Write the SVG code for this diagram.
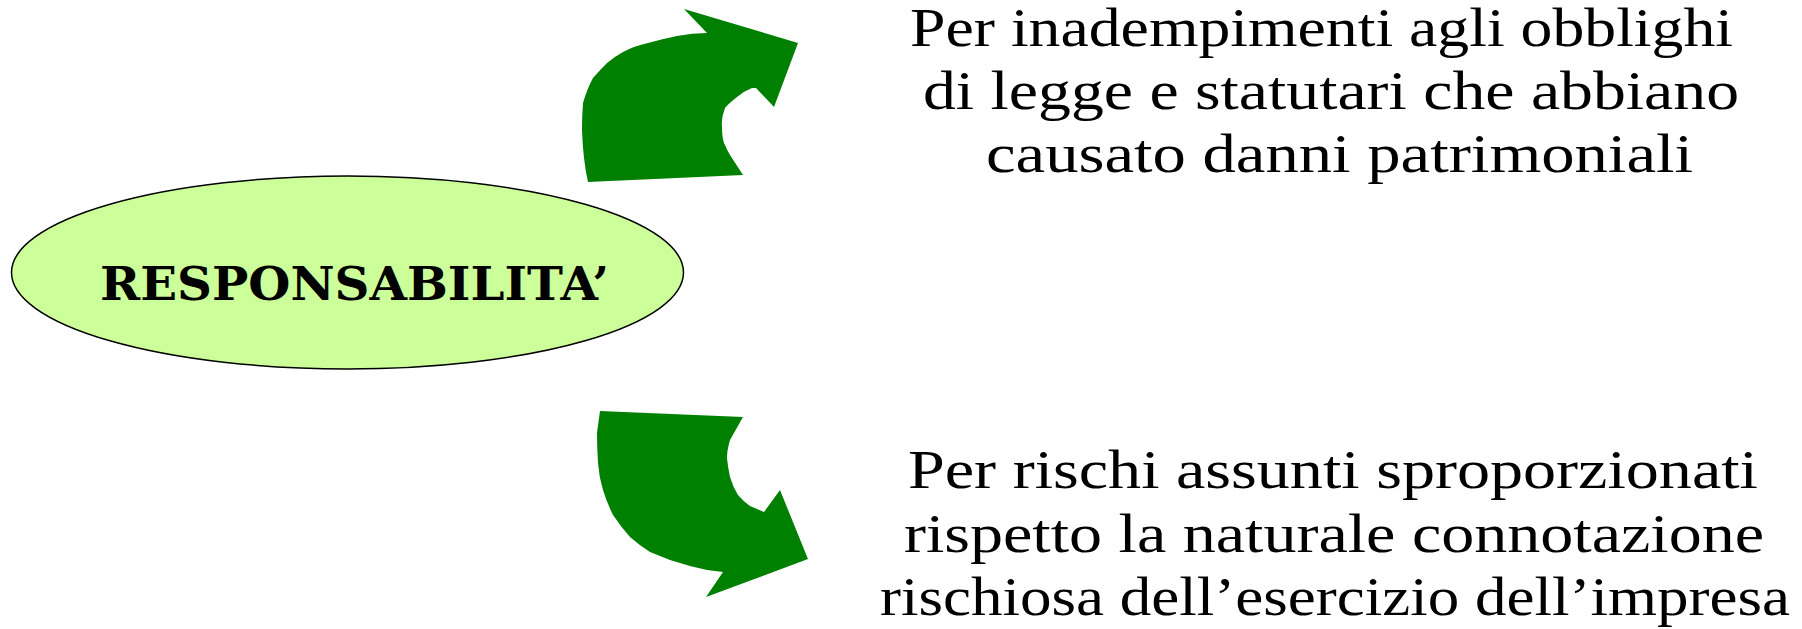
<svg xmlns="http://www.w3.org/2000/svg" width="1802" height="629" viewBox="0 0 1802 629">
<style>
.arrow{fill:#008000;stroke:none}
.node{fill:#CCFF99;stroke:#000;stroke-width:1.5}
.title{font-family:"DejaVu Serif","Liberation Serif",serif;font-weight:bold;font-size:47px;fill:#000}
.body{font-family:"Liberation Serif","DejaVu Serif",serif;font-size:55px;fill:#000}
</style>
<rect width="1802" height="629" fill="#fff"/>
<g id="connectors">
<path class="arrow" d="M684,9 L798,43 L774,107 L756,88 L752,88 Q744,91 737,97 Q728,104 725,108 Q721,118 722,127 Q722,137 724,143 Q727,150 730,155 L743,175 L588,182 Q583,160 582,130 Q582,115 583,103 Q587,89 593,78 Q600,70 607,63 Q614,57 623,52 Q634,46 648,43 Q662,39 677,36 Q692,33 707,33 Z"/>
<path class="arrow" d="M600,411 L743,417 L730,440 Q727,450 727,458 Q728,468 730,477 Q733,487 738,495 Q743,501 750,506 L764,512 L780,490 L808,559 L706,597 L723,572 L707,570 Q688,566 670,560 Q660,556 650,552 Q639,545 630,537 Q621,527 613,515 Q607,503 603,490 Q599,477 598,463 Q597,447 597,433 Z"/>
</g>
<g id="node-responsabilita">
<ellipse class="node" cx="347.5" cy="272.5" rx="336" ry="96.5"/>
<text class="title" x="354.5" y="300" text-anchor="middle" textLength="509" lengthAdjust="spacingAndGlyphs">RESPONSABILITA’</text>
</g>
<g id="text-top">
<text class="body" x="1321.5" y="46" text-anchor="middle" textLength="823" lengthAdjust="spacingAndGlyphs">Per inadempimenti agli obblighi</text>
<text class="body" x="1331" y="109" text-anchor="middle" textLength="816" lengthAdjust="spacingAndGlyphs">di legge e statutari che abbiano</text>
<text class="body" x="1339.5" y="172" text-anchor="middle" textLength="707" lengthAdjust="spacingAndGlyphs">causato danni patrimoniali</text>
</g>
<g id="text-bottom">
<text class="body" x="1333" y="488" text-anchor="middle" textLength="850" lengthAdjust="spacingAndGlyphs">Per rischi assunti sproporzionati</text>
<text class="body" x="1334" y="552" text-anchor="middle" textLength="860" lengthAdjust="spacingAndGlyphs">rispetto la naturale connotazione</text>
<text class="body" x="1335" y="615" text-anchor="middle" textLength="910" lengthAdjust="spacingAndGlyphs">rischiosa dell’esercizio dell’impresa</text>
</g>
</svg>
